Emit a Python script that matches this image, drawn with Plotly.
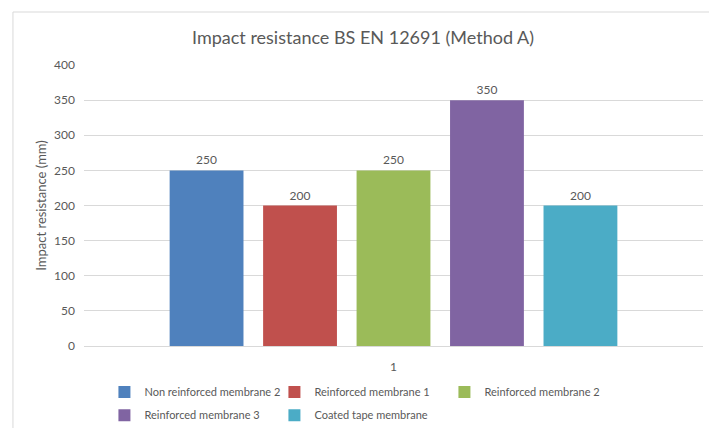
import plotly.graph_objects as go

# data
categories = ["1"]
series_names = [
    "Non reinforced membrane 2",
    "Reinforced membrane 1",
    "Reinforced membrane 2",
    "Reinforced membrane 3",
    "Coated tape membrane",
]
series_values = [250, 200, 250, 350, 200]
series_colors = ["#4F81BD", "#C0504D", "#9BBB59", "#8064A2", "#4BACC6"]
legend_rows = ["legend", "legend", "legend", "legend2", "legend2"]

y_ticks = [0, 50, 100, 150, 200, 250, 300, 350, 400]

FONT = "Lato"
GREY = "#595959"
LINE = "#D9D9D9"

fig = go.Figure()
for name, val, col, lg in zip(series_names, series_values, series_colors, legend_rows):
    fig.add_trace(go.Bar(
        x=categories, y=[val], name=name, legend=lg,
        marker=dict(color=col, line=dict(width=0)),
        text=[val], textposition="outside", cliponaxis=False,
        textfont=dict(family=FONT, size=12, color=GREY),
    ))

legend_style = dict(orientation="h", x=0.033, xanchor="left", yanchor="middle",
                    entrywidth=125, itemwidth=30, traceorder="normal",
                    bgcolor="rgba(0,0,0,0)",
                    font=dict(family=FONT, size=11, color=GREY))

# the page puts the plot 8px in from the top-left corner, so the figure is 8px smaller
fig.update_layout(
    width=709, height=420,
    margin=dict(l=76, r=14, t=57, b=82, autoexpand=False),
    paper_bgcolor="white", plot_bgcolor="white",
    font=dict(family=FONT, color=GREY, size=12),
    title=dict(text="Impact resistance BS EN 12691 (Method A)",
               x=0.5007, xanchor="center", y=0.93, yanchor="middle",
               font=dict(family=FONT, size=18, color=GREY)),
    barmode="group", bargap=0.245, bargroupgap=0.21,
    showlegend=True,
    legend=dict(legend_style, y=-0.164),
    legend2=dict(legend_style, y=-0.246),
    xaxis=dict(showgrid=False, showline=True, linecolor=LINE, linewidth=1,
               automargin=False, ticks="", ticklabelstandoff=10,
               tickfont=dict(size=12, color=GREY)),
    yaxis=dict(range=[0, 400], tickvals=y_ticks, showgrid=True, gridcolor=LINE,
               gridwidth=1, zeroline=False, ticks="", ticklabelstandoff=8,
               automargin=False, tickfont=dict(size=12, color=GREY),
               title=dict(text="Impact resistance (mm)", standoff=4,
                          font=dict(size=13, color=GREY))),
)

# chart area outline (Excel style frame)
fig.add_shape(type="rect", xref="paper", yref="paper",
              x0=-0.1148, x1=1.0194, y0=-0.4, y1=1.1886,
              line=dict(color=LINE, width=1), fillcolor="rgba(0,0,0,0)", layer="below")

fig.write_html("out.html")
